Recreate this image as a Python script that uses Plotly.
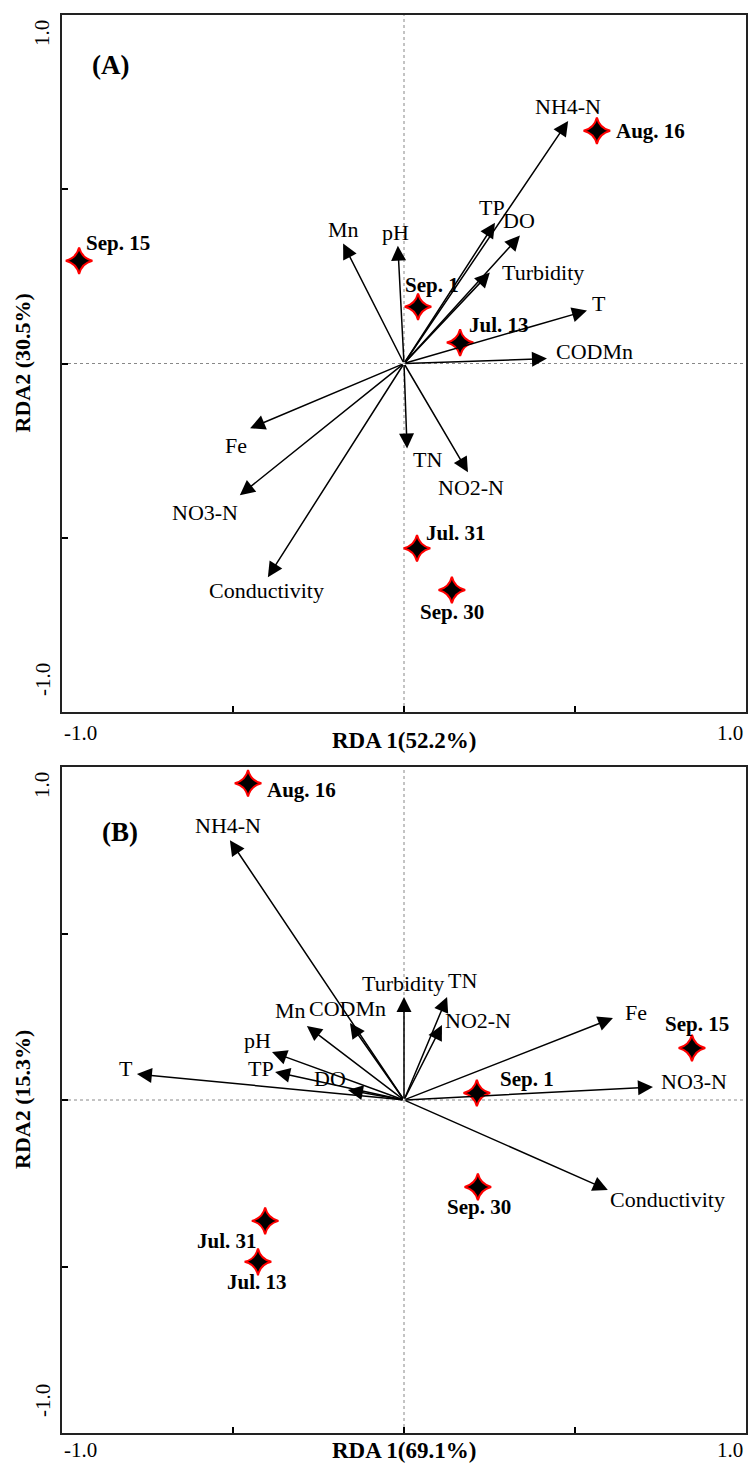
import plotly.graph_objects as go

# ---------------- Data ----------------
# Panel A: environmental variable arrow tips (RDA1, RDA2)
varsA = ["NH4-N", "TP", "DO", "Turbidity", "T", "CODMn", "Mn", "pH", "Fe", "NO3-N", "Conductivity", "TN", "NO2-N"]
varsA_x = [0.480, 0.266, 0.339, 0.251, 0.535, 0.418, -0.178, -0.018, -0.450, -0.480, -0.398, 0.009, 0.187]
varsA_y = [0.696, 0.404, 0.367, 0.261, 0.152, 0.014, 0.344, 0.338, -0.186, -0.378, -0.613, -0.244, -0.312]

# Panel A: sampling dates
datesA = ["Aug. 16", "Sep. 1", "Jul. 13", "Sep. 15", "Jul. 31", "Sep. 30"]
datesA_x = [0.564, 0.041, 0.164, -0.950, 0.038, 0.140]
datesA_y = [0.668, 0.163, 0.060, 0.295, -0.530, -0.650]

# Panel B: environmental variable arrow tips
varsB = ["NH4-N", "Turbidity", "TN", "NO2-N", "CODMn", "Mn", "pH", "TP", "DO", "T", "Fe", "NO3-N", "Conductivity"]
varsB_x = [-0.509, 0.000, 0.126, 0.111, -0.158, -0.284, -0.386, -0.377, -0.164, -0.781, 0.611, 0.728, 0.596]
varsB_y = [0.780, 0.309, 0.309, 0.225, 0.231, 0.222, 0.144, 0.084, 0.030, 0.078, 0.246, 0.039, -0.270]

# Panel B: sampling dates
datesB = ["Aug. 16", "Sep. 15", "Sep. 1", "Sep. 30", "Jul. 31", "Jul. 13"]
datesB_x = [-0.456, 0.842, 0.213, 0.216, -0.406, -0.427]
datesB_y = [0.951, 0.156, 0.021, -0.261, -0.363, -0.486]

tick_vals = [-1.0, -0.5, 0.0, 0.5, 1.0]
axis_titles_x = ["RDA 1(52.2%)", "RDA 1(69.1%)"]
axis_titles_y = ["RDA2 (30.5%)", "RDA2 (15.3%)"]
panel_labels = ["(A)", "(B)"]

# ---------------- Label offsets (pixels, dx right, dy up) ----------------
offA_vars = {"NH4-N": (0, 14), "TP": (-3, 15), "DO": (-1, 15), "Turbidity": (53, 0),
             "T": (12, 7), "CODMn": (48, 7), "Mn": (0, 14), "pH": (-2, 13),
             "Fe": (-14, -17), "NO3-N": (-35, -17), "Conductivity": (-1, -13),
             "TN": (20, -11), "NO2-N": (3, -15)}
offA_dates = {"Aug. 16": (54, 0), "Sep. 1": (14, 22), "Jul. 13": (39, 18),
              "Sep. 15": (39, 18), "Jul. 31": (39, 15), "Sep. 30": (0, -22)}
offB_vars = {"NH4-N": (-2, 15), "Turbidity": (-1, 14), "TN": (15, 17), "NO2-N": (36, 5),
             "CODMn": (-2, 15), "Mn": (-16, 16), "pH": (-14, 12), "TP": (-14, 4),
             "DO": (-18, 12), "T": (-11, 6), "Fe": (23, 6), "NO3-N": (41, 6),
             "Conductivity": (60, -10)}
offB_dates = {"Aug. 16": (53, -7), "Sep. 15": (5, 24), "Sep. 1": (50, 14),
              "Sep. 30": (1, -20), "Jul. 31": (-38, -20), "Jul. 13": (-1, -20)}

W, H = 748, 1463
SERIF = "Liberation Serif, Times New Roman, serif"

def px(x):
    return x / W

def py(y):
    return 1 - y / H

# plot areas in page pixels
left, right = 62, 746
panels = [(15, 712), (767, 1433)]

fig = go.Figure()

annotations = []
shapes = []

panel_data = [
    (varsA, varsA_x, varsA_y, datesA, datesA_x, datesA_y, offA_vars, offA_dates),
    (varsB, varsB_x, varsB_y, datesB, datesB_x, datesB_y, offB_vars, offB_dates),
]

def paper_text(x, y, text, size, bold=False, angle=0):
    return dict(xref="paper", yref="paper", x=px(x), y=py(y), xanchor="center", yanchor="middle",
                text=("<b>" + text + "</b>") if bold else text, showarrow=False, textangle=angle,
                font=dict(family=SERIF, size=size, color="black"))

for i, (vn, vx, vy, dn, dx, dy, ov, od) in enumerate(panel_data):
    xa = "x" if i == 0 else "x2"
    ya = "y" if i == 0 else "y2"
    # dotted zero lines
    shapes.append(dict(type="line", xref=xa, yref=ya, x0=0, x1=0, y0=-1, y1=1,
                       line=dict(color="#888", width=1, dash="dot"), layer="below"))
    shapes.append(dict(type="line", xref=xa, yref=ya, x0=-1, x1=1, y0=0, y1=0,
                       line=dict(color="#888", width=1, dash="dot"), layer="below"))
    # arrows
    for name, x, y in zip(vn, vx, vy):
        annotations.append(dict(x=x, y=y, ax=0, ay=0, xref=xa, yref=ya, axref=xa, ayref=ya,
                                text="", showarrow=True, arrowhead=2, arrowsize=2.0,
                                arrowwidth=1.5, arrowcolor="black", standoff=0))
        ox, oy = ov[name]
        annotations.append(dict(x=x, y=y, xref=xa, yref=ya, text=name, showarrow=False,
                                xshift=ox, yshift=oy, xanchor="center", yanchor="middle",
                                font=dict(family=SERIF, size=22, color="black")))
    # sampling points
    fig.add_trace(go.Scatter(x=dx, y=dy, mode="markers", xaxis=xa, yaxis=ya,
                             marker=dict(symbol="star-diamond", size=19, color="black",
                                         line=dict(color="red", width=2)),
                             showlegend=False, hoverinfo="skip"))
    for name, x, y in zip(dn, dx, dy):
        ox, oy = od[name]
        annotations.append(dict(x=x, y=y, xref=xa, yref=ya, text="<b>" + name + "</b>",
                                showarrow=False, xshift=ox, yshift=oy,
                                xanchor="center", yanchor="middle",
                                font=dict(family=SERIF, size=21, color="black")))

    top, bot = panels[i]
    mid = (top + bot) / 2
    # y tick labels (rotated)
    annotations.append(paper_text(42, top + 18, f"{tick_vals[-1]:.1f}", 21, angle=-90))
    annotations.append(paper_text(43, bot - 32, f"{tick_vals[0]:.1f}", 21, angle=-90))
    # x tick labels
    xl_y = bot + 21 if i == 0 else bot + 17
    annotations.append(paper_text(80, xl_y, f"{tick_vals[0]:.1f}", 21))
    annotations.append(paper_text(730, xl_y, f"{tick_vals[-1]:.1f}", 21))
    # axis titles
    annotations.append(paper_text(404, bot + 29 if i == 0 else bot + 17, axis_titles_x[i], 23, bold=True))
    annotations.append(paper_text(22, mid, axis_titles_y[i], 22, bold=True, angle=-90))
    # panel label
    pl_y = 65 if i == 0 else 832
    pl_x = 110 if i == 0 else 120
    annotations.append(paper_text(pl_x, pl_y, panel_labels[i], 27, bold=True))

axis_common = dict(range=[-1, 1], tickvals=tick_vals, showticklabels=False, ticks="inside",
                   ticklen=6, tickwidth=1.5, tickcolor="black", showgrid=False, zeroline=False,
                   showline=True, linecolor="#222", linewidth=2, mirror=True)

fig.update_layout(
    width=W, height=H,
    margin=dict(l=0, r=0, t=0, b=0),
    paper_bgcolor="white", plot_bgcolor="white",
    xaxis=dict(domain=[px(left), px(right)], anchor="y", **axis_common),
    yaxis=dict(domain=[py(panels[0][1]), py(panels[0][0])], anchor="x", **axis_common),
    xaxis2=dict(domain=[px(left), px(right)], anchor="y2", **axis_common),
    yaxis2=dict(domain=[py(panels[1][1]), py(panels[1][0])], anchor="x2", **axis_common),
    annotations=annotations,
    shapes=shapes,
    showlegend=False,
)

fig.write_html("out.html",
               config={"displayModeBar": False},
               post_script="document.body.style.margin='0';document.documentElement.style.overflow='hidden';")
